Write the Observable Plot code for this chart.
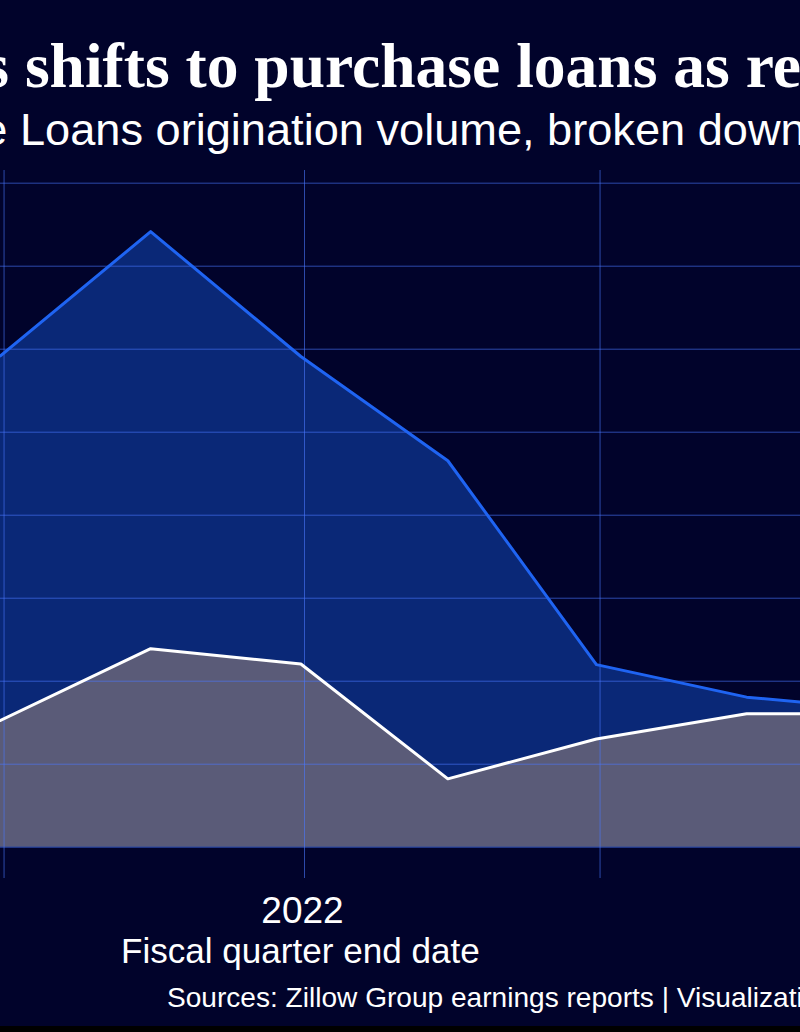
<!DOCTYPE html>
<html><head><meta charset="utf-8">
<script src="https://cdn.jsdelivr.net/npm/d3@7"></script>
<script src="https://cdn.jsdelivr.net/npm/@observablehq/plot@0.6"></script>
<style>
html,body{margin:0;padding:0;background:#01032b;}
#wrap{position:relative;width:800px;height:1032px;overflow:hidden;background:#01032b;}
#chart{position:absolute;left:0;top:0;}
#overlay{position:absolute;left:0;top:0;}
#edge{position:absolute;left:0;top:1026px;width:800px;height:6px;background:#000;}
</style></head><body>
<div id="wrap"><div id="chart"></div><svg id="overlay" width="800" height="1032"></svg><div id="edge"></div></div>
<script>
// ---- data ($M) ----
const quarterEnds = ["2021-06-30","2021-09-30","2021-12-31","2022-03-31","2022-06-30","2022-09-30","2022-12-31"];
const totalVolume    = [740, 927, 739, 582, 275, 226, 205];
const purchaseVolume = [191, 299, 276, 103, 163, 201, 201];
const yTicks = [0, 125, 250, 375, 500, 625, 750, 875, 1000];
const xGridDates = ["2021-01-01","2021-07-01","2022-01-01","2022-07-01","2023-01-01"];
const xLabelDates = ["2022-01-01"];

const titleText = "Zillow Home Loans shifts to purchase loans as refinancing dries up";
const subtitleText = "Zillow Home Loans origination volume, broken down by loan purpose";
const xAxisTitle = "Fiscal quarter end date";
const captionText = "Sources: Zillow Group earnings reports | Visualization";

const data = quarterEnds.map((d, i) => ({date: new Date(d), total: totalVolume[i], purchase: purchaseVolume[i]}));

// ---- layout ----
const dayPx = 596 / 365;
const janX = 302;
const grid = "#4a78ff";

const plot = Plot.plot({
  width: 800, height: 1032,
  marginTop: 170, marginBottom: 154, marginLeft: 0, marginRight: 0,
  style: {background: "transparent", color: "#fff", fontFamily: "'Liberation Sans', Arial, sans-serif", fontSize: "37px"},
  x: {type: "utc", domain: [new Date("2021-01-01"), new Date("2023-01-01")], range: [janX - 365 * dayPx, janX + 365 * dayPx]},
  y: {domain: [-47.1, 1019.1], axis: null},
  marks: [
    Plot.areaY(data, {x: "date", y: "total", fill: "#0a2877", clip: true}),
    Plot.areaY(data, {x: "date", y: "purchase", fill: "#5a5b78", clip: true}),
    Plot.gridY(yTicks, {stroke: grid, strokeOpacity: 0.6, strokeWidth: 1}),
    Plot.gridX(xGridDates.map(d => new Date(d)), {stroke: grid, strokeOpacity: 0.6, strokeWidth: 1, dx: 2}),
    Plot.lineY(data, {x: "date", y: "total", stroke: "#1f64f2", strokeWidth: 3, clip: true}),
    Plot.lineY(data, {x: "date", y: "purchase", stroke: "#ffffff", strokeWidth: 3, clip: true}),
    Plot.axisX(xLabelDates.map(d => new Date(d)), {tickFormat: d3.utcFormat("%Y"), tickSize: 0, tickPadding: 18, fontSize: 37, fill: "#fff", label: null})
  ]
});
document.getElementById("chart").appendChild(plot);

// ---- text overlay ----
const ov = d3.select("#overlay");
function fitText(full, anchor, x0, x1, baseline, family, weight) {
  const t = ov.append("text").attr("font-family", family).attr("font-weight", weight)
    .attr("font-size", 100).attr("fill", "#fff").attr("x", 0).attr("y", baseline).text(full);
  const node = t.node();
  const i = full.indexOf(anchor);
  const pre = i > 0 ? node.getSubStringLength(0, i) : 0;
  const w = node.getSubStringLength(i, anchor.length);
  const s = (x1 - x0) / w * 100;
  t.attr("font-size", s.toFixed(2)).attr("x", (x0 - pre * s / 100).toFixed(1));
  return t;
}
const serif = "'Liberation Serif', 'Times New Roman', serif";
const sans = "'Liberation Sans', Arial, sans-serif";
fitText(titleText, "shifts to purchase loans as", 25, 730, 87, serif, "bold");
fitText(subtitleText, "Loans origination volume, broken down", 20, 806, 145, sans, "normal");
fitText(xAxisTitle, xAxisTitle, 121, 480, 963, sans, "normal");
fitText(captionText, "Sources: Zillow Group earnings reports | Visualizati", 167, 803, 1007, sans, "normal");
</script>
</body></html>
